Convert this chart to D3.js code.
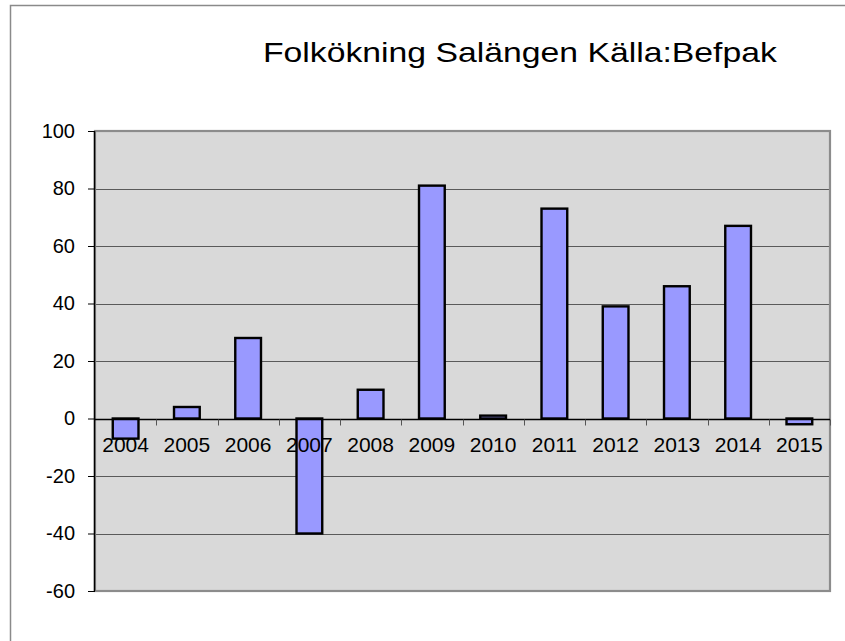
<!DOCTYPE html>
<html>
<head>
<meta charset="utf-8">
<script src="https://cdn.jsdelivr.net/npm/d3@7"></script>
<style>
  body { margin: 0; background: #fff; }
  svg { display: block; font-family: "Liberation Sans", Arial, sans-serif; }
</style>
</head>
<body>
<div id="chart"></div>
<script>
// data
var years = ['2004', '2005', '2006', '2007', '2008', '2009', '2010', '2011', '2012', '2013', '2014', '2015'];
var values = [-7, 4, 28, -40, 10, 81, 1, 73, 39, 46, 67, -2];
var yTicks = [-60, -40, -20, 0, 20, 40, 60, 80, 100];
var title = 'Folkökning Salängen Källa:Befpak';

var W = 845, H = 641;
var margin = {top: 131, right: 15, bottom: 50, left: 95},
    width = W - margin.left - margin.right,
    height = H - margin.top - margin.bottom;

var svg = d3.select('#chart').append('svg')
    .attr('width', W)
    .attr('height', H);

// outer chart frame (runs off the right and bottom edge)
svg.append('rect')
    .attr('x', 10.5).attr('y', 5.5)
    .attr('width', W + 20).attr('height', H + 20)
    .attr('fill', '#fff')
    .attr('stroke', '#8a8a8a')
    .attr('stroke-width', 1.5);

// the original title font is wider than Liberation Sans: stretch the glyphs
var titleText = svg.append('text')
    .attr('x', 0)
    .attr('y', 0)
    .style('font-size', '28.5px')
    .attr('fill', '#000')
    .text(title);
var tw = titleText.node().getComputedTextLength();
titleText.attr('transform', 'translate(263,62) scale(' + (514 / tw) + ',1)');

var g = svg.append('g')
    .attr('transform', 'translate(' + margin.left + ',' + margin.top + ')');

var x = d3.scaleBand()
    .domain(years)
    .range([0, width])
    .paddingInner(0.58)
    .paddingOuter(0.29);

var y = d3.scaleLinear()
    .domain([-60, 100])
    .range([height, 0]);

// plot area
g.append('rect')
    .attr('width', width)
    .attr('height', height)
    .attr('fill', '#d9d9d9');

// grid
g.selectAll('.grid')
    .data(yTicks)
    .enter().append('line')
    .attr('class', 'grid')
    .attr('x1', 0).attr('x2', width)
    .attr('y1', function(d) { return Math.round(y(d)) + 0.5; })
    .attr('y2', function(d) { return Math.round(y(d)) + 0.5; })
    .attr('stroke', '#5a5a5a')
    .attr('stroke-width', 1);

// plot border
g.append('rect')
    .attr('x', 0).attr('y', 0)
    .attr('width', width).attr('height', height)
    .attr('fill', 'none')
    .attr('stroke', '#8c8c8c')
    .attr('stroke-width', 2.2);

// bars
g.selectAll('.bar')
    .data(values)
    .enter().append('rect')
    .attr('class', 'bar')
    .attr('x', function(d, i) { return x(years[i]); })
    .attr('width', x.bandwidth())
    .attr('y', function(d) { return y(Math.max(0, d)); })
    .attr('height', function(d) { return Math.abs(y(d) - y(0)); })
    .attr('fill', '#9999ff')
    .attr('stroke', '#000')
    .attr('stroke-width', 2.4);

// x axis: zero line, ticks at category boundaries, labels
var zeroY = Math.round(y(0)) + 0.5;
g.append('line')
    .attr('x1', 0).attr('x2', width)
    .attr('y1', zeroY).attr('y2', zeroY)
    .attr('stroke', '#000')
    .attr('stroke-width', 1.5);

g.selectAll('.xtick')
    .data(d3.range(1, years.length + 1))
    .enter().append('line')
    .attr('class', 'xtick')
    .attr('x1', function(i) { return Math.round(i * x.step()) + 0.5; })
    .attr('x2', function(i) { return Math.round(i * x.step()) + 0.5; })
    .attr('y1', zeroY).attr('y2', zeroY + 6)
    .attr('stroke', '#555')
    .attr('stroke-width', 1);

g.selectAll('.xlabel')
    .data(years)
    .enter().append('text')
    .attr('class', 'xlabel')
    .attr('x', function(d) { return x(d) + x.bandwidth() / 2; })
    .attr('y', y(0) + 33)
    .attr('text-anchor', 'middle')
    .style('font-size', '21px')
    .attr('fill', '#000')
    .text(function(d) { return d; });

// y axis
var yAxis = g.append('g')
    .attr('class', 'axis axis--y')
    .call(d3.axisLeft(y).tickValues(yTicks).tickSize(7).tickPadding(13)
        .tickFormat(function(d) { return String(d); }));

yAxis.select('.domain').attr('stroke', '#000').attr('stroke-width', 1.5)
    .attr('d', 'M-0.5,0V' + height);
yAxis.selectAll('.tick line').attr('stroke', '#000').attr('stroke-width', 1);
yAxis.selectAll('.tick text')
    .style('font-size', '20px')
    .style('font-family', '"Liberation Sans", Arial, sans-serif')
    .attr('fill', '#000');
</script>
</body>
</html>
